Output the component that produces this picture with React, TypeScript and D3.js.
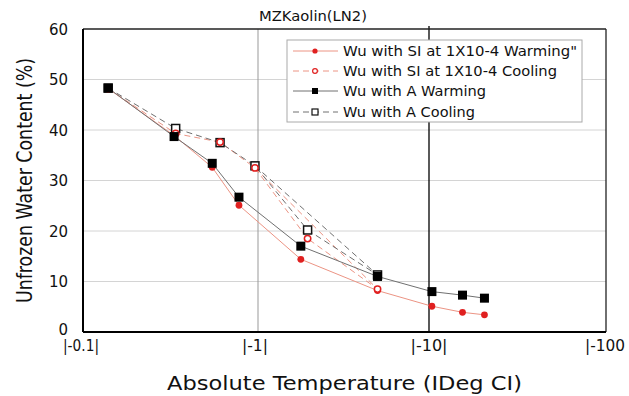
import React from "react";
import * as d3 from "d3";

const W = 629;
const H = 396;

const tickValues = [0.1, 1, 10, 100];
const tickLabels = ["|-0.1|", "|-1|", "|-10|", "|-100"];
const tickLabelWidths = [36, 26, 37, 40];
const yTicks = [0, 10, 20, 30, 40, 50, 60];

// Wu with SI at 1X10-4 Warming
const siWarmX = [0.133, 0.323, 0.54, 0.774, 1.78, 5.0, 10.4, 15.7, 21.1];
const siWarmY = [48.2, 38.9, 32.6, 25.1, 14.4, 8.2, 5.1, 3.9, 3.4];
// Wu with SI at 1X10-4 Cooling
const siCoolX = [0.133, 0.33, 0.6, 0.96, 1.95, 5.0];
const siCoolY = [48.2, 39.3, 37.6, 32.5, 18.5, 8.5];
// Wu with A Warming
const aWarmX = [0.133, 0.323, 0.54, 0.774, 1.78, 5.0, 10.4, 15.7, 21.1];
const aWarmY = [48.3, 38.7, 33.4, 26.7, 17.0, 11.0, 8.0, 7.3, 6.7];
// Wu with A Cooling
const aCoolX = [0.133, 0.33, 0.6, 0.96, 1.95, 5.0];
const aCoolY = [48.3, 40.3, 37.5, 32.9, 20.2, 11.3];
// extra connection in cooling series (point index pairs)
const coolSkip = [3, 5];

const legendLabels = [
  "Wu with SI at 1X10-4 Warming\"",
  "Wu with SI at 1X10-4 Cooling",
  "Wu with A Warming",
  "Wu with A Cooling",
];
const legendWidths = [234, 214, 143, 132];

const RED = "#e02020";
const RED_LINE = "#ec9484";
const GREY_LINE = "#707070";

export default function App() {
  const x = d3.scaleLog().domain([0.1, 100]).range([87, 600]);
  const y = d3.scaleLinear().domain([0, 60]).range([332, 29]);
  const left = 83, right = 606, top = 29, bottom = 332;

  const line = d3
    .line<[number, number]>()
    .x((d) => x(d[0]))
    .y((d) => y(d[1]));

  const pts = (xs: number[], ys: number[]) =>
    xs.map((v, i) => [v, ys[i]] as [number, number]);

  const siW = pts(siWarmX, siWarmY);
  const siC = pts(siCoolX, siCoolY);
  const aW = pts(aWarmX, aWarmY);
  const aC = pts(aCoolX, aCoolY);

  const font = "DejaVu Sans, Verdana, sans-serif";

  const legendY = [51, 71, 91, 112];

  return (
    <svg width={W} height={H} style={{ position: "absolute", left: 0, top: 0, background: "#fff" }}>
      {/* gridlines */}
      {yTicks
        .filter((t) => t > 0 && t < 60)
        .map((t) => (
          <line key={t} x1={left} x2={right} y1={y(t)} y2={y(t)} stroke="#d4d4d4" strokeWidth={1} />
        ))}
      {/* vertical at 1 */}
      <line x1={x(1)} x2={x(1)} y1={top} y2={bottom} stroke="#999" strokeWidth={1} />
      {/* vertical at 10 */}
      <line x1={x(10)} x2={x(10)} y1={26} y2={bottom} stroke="#000" strokeWidth={1.3} />

      {/* frame */}
      <line x1={left} x2={right} y1={top} y2={top} stroke="#222" strokeWidth={1.3} />
      <line x1={right} x2={right} y1={top} y2={bottom} stroke="#222" strokeWidth={1.3} />
      <line x1={left} x2={left} y1={top} y2={bottom} stroke="#000" strokeWidth={2} />
      <line x1={left} x2={right} y1={bottom} y2={bottom} stroke="#000" strokeWidth={2} />

      {/* series lines */}
      <path d={line(siW) || ""} fill="none" stroke={RED_LINE} strokeWidth={1} />
      <path d={line(siC) || ""} fill="none" stroke={RED_LINE} strokeWidth={1} strokeDasharray="6,4" />
      <path
        d={line([siC[coolSkip[0]], siC[coolSkip[1]]]) || ""}
        fill="none"
        stroke={RED_LINE}
        strokeWidth={1}
        strokeDasharray="6,4"
      />
      <path d={line(aW) || ""} fill="none" stroke={GREY_LINE} strokeWidth={1} />
      <path d={line(aC) || ""} fill="none" stroke={GREY_LINE} strokeWidth={1} strokeDasharray="6,4" />
      <path
        d={line([aC[coolSkip[0]], aC[coolSkip[1]]]) || ""}
        fill="none"
        stroke={GREY_LINE}
        strokeWidth={1}
        strokeDasharray="6,4"
      />

      {/* markers */}
      {aC.map((d, i) => (
        <rect
          key={"ac" + i}
          x={x(d[0]) - 4}
          y={y(d[1]) - 4}
          width={8}
          height={8}
          fill="#fff"
          stroke="#111"
          strokeWidth={1.5}
        />
      ))}
      {siW.map((d, i) => (
        <circle key={"sw" + i} cx={x(d[0])} cy={y(d[1])} r={3.4} fill={RED} />
      ))}
      {siC.map((d, i) => (
        <circle key={"sc" + i} cx={x(d[0])} cy={y(d[1])} r={3.2} fill="#fff" stroke={RED} strokeWidth={1.5} />
      ))}
      {aW.map((d, i) => (
        <rect key={"aw" + i} x={x(d[0]) - 4.5} y={y(d[1]) - 4.5} width={9} height={9} fill="#000" />
      ))}

      {/* legend */}
      <rect x={287} y={40} width={295} height={82} fill="#fff" stroke="#aaa" strokeWidth={1} />
      {legendLabels.map((lab, i) => {
        const ly = legendY[i];
        const isRed = i < 2;
        const dashed = i % 2 === 1;
        return (
          <g key={lab}>
            <line
              x1={293}
              x2={338}
              y1={ly}
              y2={ly}
              stroke={isRed ? RED_LINE : GREY_LINE}
              strokeWidth={1}
              strokeDasharray={dashed ? "6,4" : undefined}
            />
            {i === 0 && <circle cx={315} cy={ly} r={2.6} fill={RED} />}
            {i === 1 && <circle cx={315} cy={ly} r={2.4} fill="#fff" stroke={RED} strokeWidth={1.2} />}
            {i === 2 && <rect x={312} y={ly - 3} width={6} height={6} fill="#000" />}
            {i === 3 && <rect x={312} y={ly - 3} width={6} height={6} fill="#fff" stroke="#111" strokeWidth={1.2} />}
            <text
              x={343}
              y={ly + 5}
              fontFamily={font}
              fontSize={14}
              fill="#111"
              textLength={legendWidths[i]}
              lengthAdjust="spacingAndGlyphs"
            >
              {lab}
            </text>
          </g>
        );
      })}

      {/* y tick labels */}
      {yTicks.map((t) => (
        <text
          key={"yt" + t}
          x={68}
          y={y(t) + (t === 0 ? 3 : 5.5)}
          textAnchor="end"
          fontFamily={font}
          fontSize={15}
          fill="#111"
        >
          {t}
        </text>
      ))}

      {/* x tick labels */}
      {tickValues.map((v, i) => (
        <text
          key={"xt" + v}
          x={x(v) + (i === 0 ? -6 : i === 1 ? -3 : i === 3 ? 5 : 0)}
          y={351}
          textAnchor="middle"
          fontFamily={font}
          fontSize={15}
          fill="#111"
          textLength={tickLabelWidths[i]}
          lengthAdjust="spacingAndGlyphs"
        >
          {tickLabels[i]}
        </text>
      ))}

      {/* title */}
      <text
        x={259}
        y={21}
        fontFamily={font}
        fontSize={14.5}
        fill="#111"
        textLength={108}
        lengthAdjust="spacingAndGlyphs"
      >
        MZKaolin(LN2)
      </text>

      {/* axis titles */}
      <text
        x={167}
        y={390}
        fontFamily={font}
        fontSize={19}
        fill="#111"
        textLength={355}
        lengthAdjust="spacingAndGlyphs"
      >
        Absolute Temperature (IDeg CI)
      </text>
      <text
        transform="translate(32,303) rotate(-90)"
        fontFamily={font}
        fontSize={21}
        fill="#111"
        textLength={245}
        lengthAdjust="spacingAndGlyphs"
      >
        Unfrozen Water Content (%)
      </text>
    </svg>
  );
}
